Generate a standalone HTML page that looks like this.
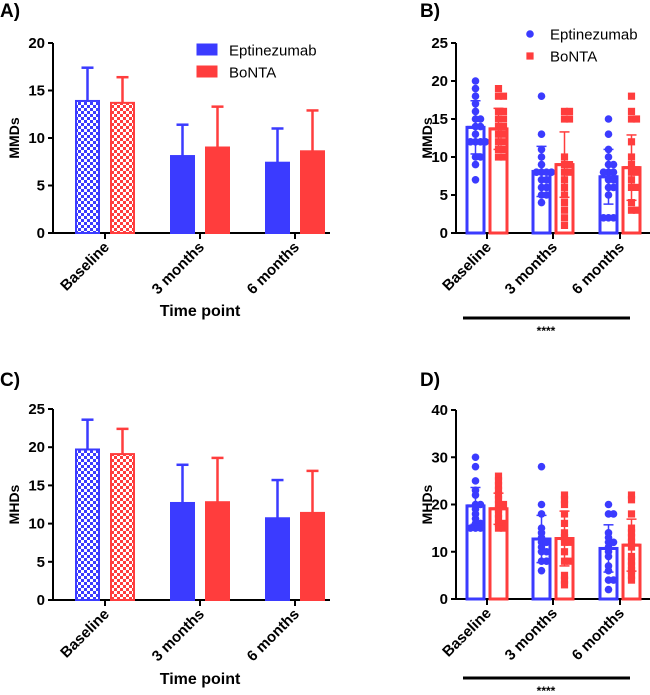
<!DOCTYPE html>
<html><head><meta charset="utf-8"><style>
html,body{margin:0;padding:0;background:#fff;}
svg{display:block;font-family:"Liberation Sans",Arial,sans-serif;}
</style></head><body>
<svg id="fig" width="650" height="695" viewBox="0 0 650 695">
<defs>
<pattern id="chkB" width="6" height="6" patternUnits="userSpaceOnUse"><rect width="6" height="6" fill="#fff"/><rect width="3" height="3" fill="#3b3bff"/><rect x="3" y="3" width="3" height="3" fill="#3b3bff"/></pattern>
<pattern id="chkR" width="6" height="6" patternUnits="userSpaceOnUse"><rect width="6" height="6" fill="#fff"/><rect width="3" height="3" fill="#ff3d3d"/><rect x="3" y="3" width="3" height="3" fill="#ff3d3d"/></pattern>
</defs>
</svg>
<script>
const categories=["Baseline","3 months","6 months"];
const seriesNames=["Eptinezumab","BoNTA"];
const mmdMean=[[13.9,8.1,7.4],[13.7,9.0,8.6]];
const mmdSD=[[3.5,3.3,3.6],[2.7,4.3,4.3]];
const mhdMean=[[19.7,12.7,10.7],[19.1,12.8,11.4]];
const mhdSD=[[3.9,5.0,5.0],[3.3,5.8,5.5]];
const mmdPts=[
 [[20,19,18,17,16,15,15,14,14,13,12,12,12,12,10,10,9,7],[18,13,11,10,9,8,8,8,8,7,7,6,6,5,5,4],[15,13,11,10,9,9,8,8,8,7,7,6,6,5,2,2,2]],
 [[19,18,18,16,16,15,15,14,14,13,13,12,12,11,11,10,10],[16,16,15,15,10,9,9,8,8,7,6,5,4,3,2,1],[18,16,15,15,12,10,9,8,8,7,6,6,4,3,3]]];
const mhdPts=[
 [[30,28,25,23,22,20,20,19,18,17,16,16,15,15,15],[28,20,18,15,14,13,12,12,11,10,10,8,8,6],[20,18,18,14,13,12,12,11,10,9,7,6,4,4,2]],
 [[26,25,24,23,22,21,20,20,19,18,17,16,16,15,15],[22,21,20,18,16,14,13,12,12,10,8,8,5,4,3],[22,21,18,15,14,13,12,11,9,8,7,6,5,4]]];
const ticksA=[0,5,10,15,20],ticksB=[0,5,10,15,20,25],ticksC=[0,5,10,15,20,25],ticksD=[0,10,20,30,40];
const COL=["#3b3bff","#ff3d3d"];
const svg=document.getElementById('fig');const NS="http://www.w3.org/2000/svg";
function mk(tag,attrs,parent,name){const e=document.createElementNS(NS,tag);for(const k in attrs)e.setAttribute(k,attrs[k]);


(parent||svg).appendChild(e);return e;}
function txt(s,attrs,parent,name){const t=mk('text',attrs,parent,name);t.textContent=s;return t;}

function panel(o){
 const g=mk('g',{},svg,o.name);
 const y=v=>o.y0-(v/o.ymax)*(o.y0-o.ytop);
 txt(o.letter,{x:o.letterX,y:o.letterY,'font-size':19,'font-weight':'bold'},g,'panel-label');
 mk('line',{x1:o.ax,y1:o.ytop,x2:o.ax,y2:o.y0,stroke:'#000','stroke-width':2},g,'y-axis');
 mk('line',{x1:o.ax,y1:o.y0,x2:o.axEnd,y2:o.y0,stroke:'#000','stroke-width':2},g,'x-axis');
 o.ticks.forEach(t=>{mk('line',{x1:o.ax-5,y1:y(t),x2:o.ax,y2:y(t),stroke:'#000','stroke-width':2},g,'y-tick');
  txt(String(t),{x:o.ax-8,y:y(t)+5,'font-size':15,'font-weight':'bold','text-anchor':'end'},g,'y-tick-label');});
 txt(o.ylab,{x:0,y:0,'font-size':14,'font-weight':'bold','text-anchor':'middle',transform:`translate(${o.ylabX},${(o.ytop+o.y0)/2}) rotate(-90)`},g,'y-axis-title');
 categories.forEach((c,i)=>{const cx=o.cx[i];
  mk('line',{x1:cx,y1:o.y0,x2:cx,y2:o.y0+6,stroke:'#000','stroke-width':2},g,'x-tick');
  txt(c,{x:0,y:0,'font-size':15,'font-weight':'bold','text-anchor':'end',transform:`translate(${cx+5},${o.y0+15}) rotate(-45)`},g,'x-tick-label');
  for(let s=0;s<2;s++){
   const bx=cx+(s===0?-o.off-o.bw:o.off);const m=o.mean[s][i],sd=o.sd[s][i];
   const fill=o.hollow?'#fff':(i===0?(s===0?'url(#chkB)':'url(#chkR)'):COL[s]);
   mk('rect',{x:bx,y:y(m),width:o.bw,height:o.y0-y(m),fill:fill,stroke:COL[s],'stroke-width':o.hollow?3:2},g,'bar-'+seriesNames[s].toLowerCase()+'-'+i);
   const mx=bx+o.bw/2;
   if(o.hollow){
    const pts=o.pts[s][i];const cnt={};
    pts.forEach(v=>{const k=v;const n=cnt[k]||0;cnt[k]=n+1;
     const dx=(n===0?0:(n%2?1:-1)*Math.ceil(n/2)*5);
     const px=mx+dx,py=y(v);
     if(s===0)mk('circle',{cx:px,cy:py,r:3.8,fill:COL[0]},g,'point-eptinezumab');
     else mk('rect',{x:px-3.6,y:py-3.6,width:7.2,height:7.2,fill:COL[1]},g,'point-bonta');});
    mk('line',{x1:mx,y1:y(m+sd),x2:mx,y2:y(m-sd),stroke:COL[s],'stroke-width':1.5},g,'error-bar');
    [m+sd,m-sd].forEach(v=>mk('line',{x1:mx-5,y1:y(v),x2:mx+5,y2:y(v),stroke:COL[s],'stroke-width':1.5},g,'error-cap'));
    mk('line',{x1:bx,y1:y(m),x2:bx+o.bw,y2:y(m),stroke:COL[s],'stroke-width':3},g,'mean-line');
   }else{
    mk('line',{x1:mx,y1:y(m),x2:mx,y2:y(m+sd),stroke:COL[s],'stroke-width':2.5},g,'error-bar');
    mk('line',{x1:mx-6,y1:y(m+sd),x2:mx+6,y2:y(m+sd),stroke:COL[s],'stroke-width':2.5},g,'error-cap');
   }
  }
 });
 if(o.xtitle)txt('Time point',{x:o.cx[1],y:o.xtitleY,'font-size':16,'font-weight':'bold','text-anchor':'middle'},g,'x-axis-title');
 if(o.sig){mk('line',{x1:463,y1:o.sigY,x2:630,y2:o.sigY,stroke:'#000','stroke-width':3},g,'significance-bar');
  txt('****',{x:546,y:o.sigY+17,'font-size':12,'font-weight':'bold','text-anchor':'middle'},g,'significance-stars');}
 if(o.legend){const L=o.legend;
  for(let s=0;s<2;s++){const ly=L.y+s*22;
   if(L.type==='bar')mk('rect',{x:L.x,y:ly-6,width:20,height:11,fill:COL[s],stroke:COL[s]},g,'legend-swatch-'+s);
   else if(s===0)mk('circle',{cx:L.x+10,cy:ly,r:3.8,fill:COL[0]},g,'legend-marker');
   else mk('rect',{x:L.x+6.4,y:ly-3.6,width:7.2,height:7.2,fill:COL[1]},g,'legend-marker');
   txt(seriesNames[s],{x:L.x+(L.type==='bar'?32:30),y:ly+5.5,'font-size':15},g,'legend-entry');}
 }
}
panel({name:'panel-a',letter:'A)',letterX:0,letterY:17,ax:53,axEnd:330,ytop:43,y0:233,ymax:20,ticks:ticksA,ylab:'MMDs',ylabX:19,
 cx:[105,200,295],bw:23,off:6,mean:mmdMean,sd:mmdSD,hollow:false,xtitle:true,xtitleY:316,legend:{x:197,y:50,type:'bar'}});
panel({name:'panel-b',letter:'B)',letterX:420,letterY:17,ax:456,axEnd:650,ytop:43,y0:233,ymax:25,ticks:ticksB,ylab:'MMDs',ylabX:432,
 cx:[487,553,620],bw:17,off:3,mean:mmdMean,sd:mmdSD,hollow:true,pts:mmdPts,sig:true,sigY:318,legend:{x:520,y:34,type:'pt'}});
panel({name:'panel-c',letter:'C)',letterX:0,letterY:386,ax:53,axEnd:330,ytop:409,y0:600,ymax:25,ticks:ticksC,ylab:'MHDs',ylabX:19,
 cx:[105,200,295],bw:23,off:6,mean:mhdMean,sd:mhdSD,hollow:false,xtitle:true,xtitleY:684});
panel({name:'panel-d',letter:'D)',letterX:420,letterY:386,ax:456,axEnd:650,ytop:410,y0:599,ymax:40,ticks:ticksD,ylab:'MHDs',ylabX:432,
 cx:[487,553,620],bw:17,off:3,mean:mhdMean,sd:mhdSD,hollow:true,pts:mhdPts,sig:true,sigY:678});
</script>
</body></html>
